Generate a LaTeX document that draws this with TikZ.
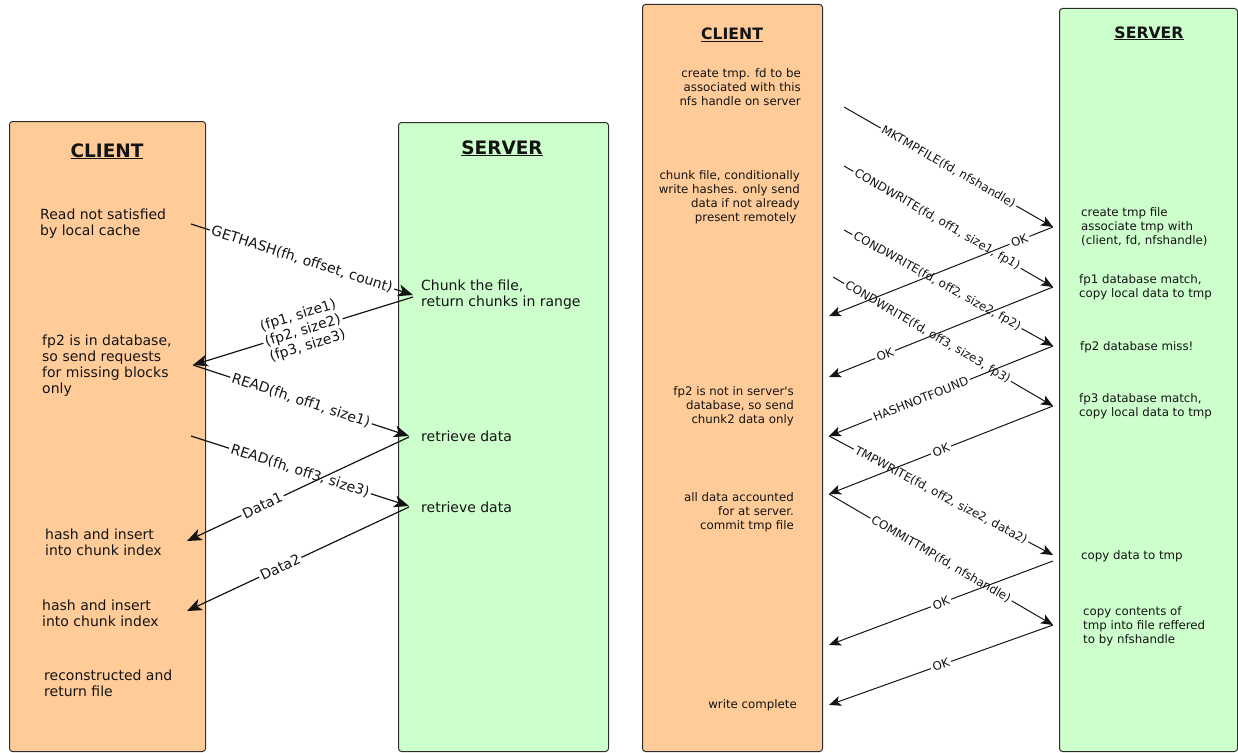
\documentclass[tikz,border=0pt]{standalone}
\usepackage{fontspec}
\setmainfont{DejaVu Sans}
\usetikzlibrary{arrows.meta}

\definecolor{peach}{RGB}{255,204,153}
\definecolor{mint}{RGB}{204,255,204}
\definecolor{ink}{RGB}{20,20,20}
\definecolor{frame}{RGB}{45,45,45}

\tikzset{
  lane/.style={draw=frame, line width=1pt, rounded corners=3pt, inner sep=0pt, anchor=north west},
  bigtitle/.style={font=\fontsize{18.5}{20}\selectfont\bfseries, anchor=base, inner sep=0pt, text=ink},
  smalltitle/.style={font=\fontsize{15.7}{18}\selectfont\bfseries, anchor=base, inner sep=0pt, text=ink},
  bignote/.style={font=\fontsize{14}{16}\selectfont, align=left, anchor=west, inner sep=0pt, text=ink},
  notewest/.style={font=\fontsize{11.8}{14}\selectfont, align=left, anchor=west, inner sep=0pt, text=ink},
  noteeast/.style={font=\fontsize{11.8}{14}\selectfont, align=right, anchor=east, inner sep=0pt, text=ink},
  big/.style={sloped, font=\fontsize{14}{16}\selectfont, inner sep=2pt, align=center, text=ink},
  bigline/.style={line width=1.2pt, draw=ink},
  bigtip/.style={-{Stealth[length=15pt,width=12pt,inset=4pt]}},
  small/.style={sloped, font=\fontsize{11.8}{14}\selectfont, inner sep=2pt, text=ink},
  smallline/.style={line width=1pt, draw=ink},
  smalltip/.style={-{Stealth[length=12pt,width=10pt,inset=3pt]}},
}

% message arrow: #1 size style, #2 from, #3 to, #4 label position, #5 label name, #6 label text
\newcommand{\msg}[6]{%
  \path (#2) -- (#3) node[#1, pos=#4] (#5) {#6};
  \draw[#1line] (#2) -- (#5);
  \draw[#1line, #1tip] (#5) -- (#3);
}

\begin{document}
\begin{tikzpicture}[x=1pt,y=-1pt]
\useasboundingbox (0,0) rectangle (1238,752);

% ---------- first exchange: read path ----------
\node[lane, fill=peach, minimum width=196pt, minimum height=630pt] (lclient) at (9,121) {};
\node[lane, fill=mint, minimum width=210pt, minimum height=629pt] (lserver) at (398,122) {};
\node[bigtitle] (lclienttitle) at (107,157) {\underline{CLIENT}};
\node[bigtitle] (lservertitle) at (502,154) {\underline{SERVER}};

\node[bignote] (lc1) at (40,224) {Read not satisfied\\by local cache};
\node[bignote] (lc2) at (42,366) {fp2 is in database,\\so send requests\\for missing blocks\\only};
\node[bignote] (lc3) at (45,542) {hash and insert\\into chunk index};
\node[bignote] (lc4) at (42,613) {hash and insert\\into chunk index};
\node[bignote] (lc5) at (44,683) {reconstructed and\\return file};

\node[bignote] (ls1) at (421,295) {Chunk the file,\\return chunks in range};
\node[bignote] (ls2) at (421,436) {retrieve data};
\node[bignote] (ls3) at (421,507) {retrieve data};

\coordinate (g1) at (191,224);  \coordinate (g2) at (413,295);
\coordinate (h1) at (413,297);  \coordinate (h2) at (193,365);
\coordinate (r1) at (193,365);  \coordinate (r2) at (409,436);
\coordinate (s1) at (191,436);  \coordinate (s2) at (409,506);
\coordinate (d1) at (409,437);  \coordinate (d2) at (187,541);
\coordinate (e1) at (409,507);  \coordinate (e2) at (187,611);

\msg{big}{g1}{g2}{0.5}{gethash}{GETHASH(fh, offset, count)}
\msg{big}{h1}{h2}{0.5}{hashes}{(fp1, size1)\\(fp2, size2)\\(fp3, size3)}
\msg{big}{r1}{r2}{0.5}{readone}{READ(fh, off1, size1)}
\msg{big}{s1}{s2}{0.5}{readthree}{READ(fh, off3, size3)}
\msg{big}{d1}{d2}{0.66}{dataone}{Data1}
\msg{big}{e1}{e2}{0.58}{datatwo}{Data2}

% ---------- second exchange: write path ----------
\node[lane, fill=peach, minimum width=180pt, minimum height=747pt] (rclient) at (642,4) {};
\node[lane, fill=mint, minimum width=178pt, minimum height=743pt] (rserver) at (1059,8) {};
\node[smalltitle] (rclienttitle) at (732,40) {\underline{CLIENT}};
\node[smalltitle] (rservertitle) at (1149,38) {\underline{SERVER}};

\node[noteeast] (rc1) at (801,87) {create tmp. fd to be\\associated with this\\nfs handle on server};
\node[noteeast] (rc2) at (800,197) {chunk file, conditionally\\write hashes. only send\\data if not already\hspace*{3.5pt}\\present remotely\hspace*{3.5pt}};
\node[noteeast] (rc3) at (794,406) {fp2 is not in server\textquotesingle s\\database, so send\\chunk2 data only};
\node[noteeast] (rc4) at (794,512) {all data accounted\\for at server.\\commit tmp file};
\node[noteeast] (rc5) at (797,705) {write complete};

\node[notewest] (rs1) at (1081,227) {create tmp file\\associate tmp with\\(client, fd, nfshandle)};
\node[notewest] (rs2) at (1079,287) {fp1 database match,\\copy local data to tmp};
\node[notewest] (rs3) at (1080,347) {fp2 database miss!};
\node[notewest] (rs4) at (1079,406) {fp3 database match,\\copy local data to tmp};
\node[notewest] (rs5) at (1081,556) {copy data to tmp};
\node[notewest] (rs6) at (1083,626) {copy contents of\\tmp into file reffered\\to by nfshandle};

\coordinate (a1) at (844,107);  \coordinate (a2) at (1053,227);
\coordinate (b1) at (1053,227); \coordinate (b2) at (829,316);
\coordinate (c1) at (844,166);  \coordinate (c2) at (1053,287);
\coordinate (k1) at (1053,287); \coordinate (k2) at (829,377);
\coordinate (w1) at (844,230);  \coordinate (w2) at (1053,346);
\coordinate (f1) at (1053,346); \coordinate (f2) at (829,436);
\coordinate (q1) at (833,277);  \coordinate (q2) at (1053,406);
\coordinate (o1) at (1053,406); \coordinate (o2) at (829,494);
\coordinate (t1) at (829,436);  \coordinate (t2) at (1053,555);
\coordinate (m1) at (829,494);  \coordinate (m2) at (1053,625);
\coordinate (x1) at (1053,561); \coordinate (x2) at (829,645);
\coordinate (y1) at (1053,625); \coordinate (y2) at (829,705);

\msg{small}{a1}{a2}{0.5}{mktmp}{MKTMPFILE(fd, nfshandle)}
\msg{small}{b1}{b2}{0.15}{okone}{OK}
\msg{small}{c1}{c2}{0.445}{condone}{CONDWRITE(fd, off1, size1, fp1)}
\msg{small}{k1}{k2}{0.75}{oktwo}{OK}
\msg{small}{w1}{w2}{0.445}{condtwo}{CONDWRITE(fd, off2, size2, fp2)}
\msg{small}{f1}{f2}{0.59}{notfound}{HASHNOTFOUND}
\msg{small}{q1}{q2}{0.43}{condthree}{CONDWRITE(fd, off3, size3, fp3)}
\msg{small}{o1}{o2}{0.5}{okthree}{OK}
\msg{small}{t1}{t2}{0.5}{tmpwrite}{TMPWRITE(fd, off2, size2, data2)}
\msg{small}{m1}{m2}{0.5}{committmp}{COMMITTMP(fd, nfshandle)}
\msg{small}{x1}{x2}{0.5}{okfour}{OK}
\msg{small}{y1}{y2}{0.5}{okfive}{OK}

\end{tikzpicture}
\end{document}
